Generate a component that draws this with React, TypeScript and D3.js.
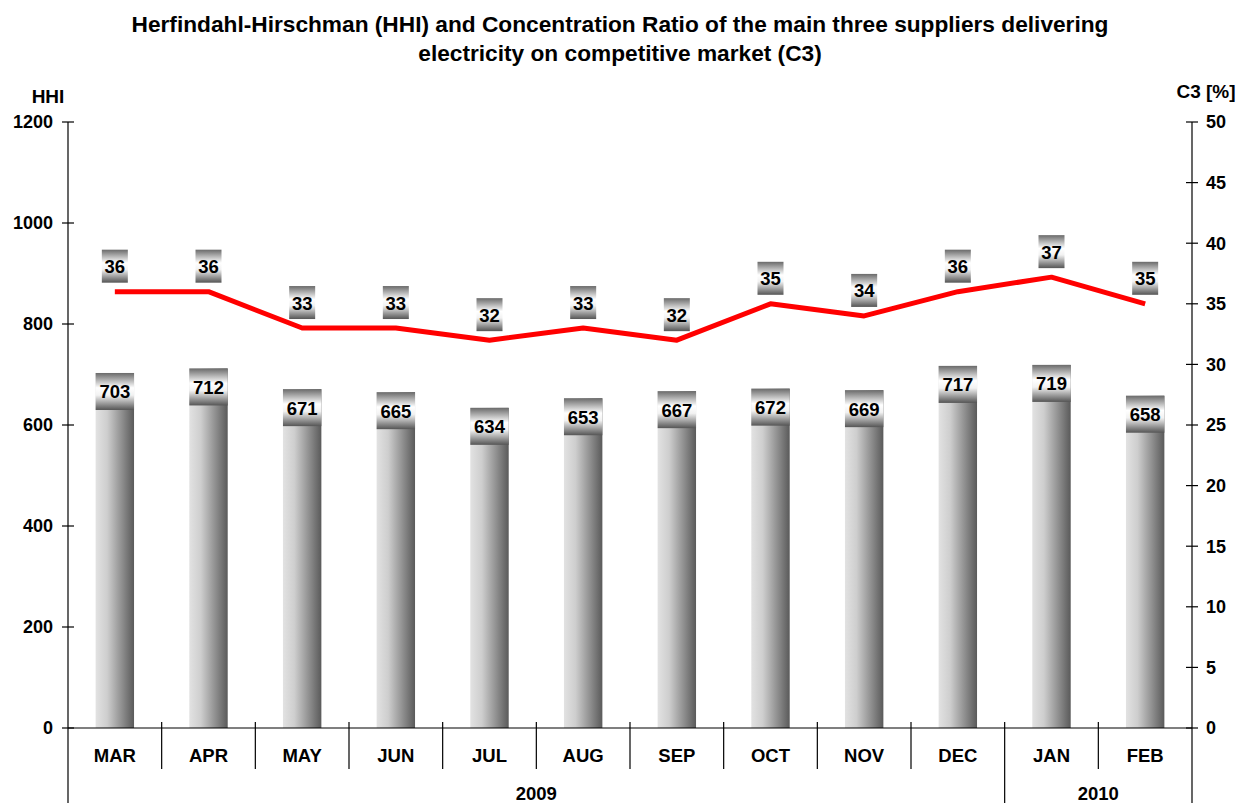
import React, { useEffect } from "react";
import * as d3 from "d3";

const months = ["MAR", "APR", "MAY", "JUN", "JUL", "AUG", "SEP", "OCT", "NOV", "DEC", "JAN", "FEB"];
const hhiValues = [703, 712, 671, 665, 634, 653, 667, 672, 669, 717, 719, 658];
const c3Values = [36, 36, 33, 33, 32, 33, 32, 35, 34, 36, 37.2, 35];
const hhiTicks = [0, 200, 400, 600, 800, 1000, 1200];
const c3Ticks = [0, 5, 10, 15, 20, 25, 30, 35, 40, 45, 50];
const years = [
  { label: "2009", from: 0, to: 10 },
  { label: "2010", from: 10, to: 12 },
];

const W = 1236;
const H = 803;
const left = 68;
const right = 1192;
const top = 122;
const bottom = 728;
const font = "'Liberation Sans', Arial, sans-serif";

export default function App() {
  useEffect(() => {
    document.body.style.margin = "0";
  }, []);

  const x = d3.scaleBand<string>().domain(months).range([left, right]).padding(0);
  const yL = d3.scaleLinear().domain([0, 1200]).range([bottom, top]);
  const yR = d3.scaleLinear().domain([0, 50]).range([bottom, top]);
  const barW = x.bandwidth() * 0.41;
  const cx = (m: string) => (x(m) as number) + x.bandwidth() / 2;
  const fmt = d3.format(".0f");

  const line = d3
    .line<number>()
    .x((_d, i) => cx(months[i]))
    .y((d) => yR(d));

  const edge = (i: number) => (i < months.length ? (x(months[i]) as number) : right);

  return (
    <svg width={W} height={H} style={{ display: "block", fontFamily: font }}>
      <defs>
        <linearGradient id="barGrad" x1="0" x2="1" y1="0" y2="0">
          <stop offset="0" stopColor="#e2e2e2" />
          <stop offset="0.3" stopColor="#cecece" />
          <stop offset="0.7" stopColor="#8c8c8c" />
          <stop offset="1" stopColor="#5a5a5a" />
        </linearGradient>
        <linearGradient id="boxGrad" x1="0" x2="0" y1="0" y2="1">
          <stop offset="0" stopColor="#6a6a6a" />
          <stop offset="0.4" stopColor="#ffffff" />
          <stop offset="0.6" stopColor="#f2f2f2" />
          <stop offset="1" stopColor="#555555" />
        </linearGradient>
      </defs>

      <text x={620} y={32} textAnchor="middle" fontSize={22.7} fontWeight="bold">
        Herfindahl-Hirschman (HHI) and Concentration Ratio of the main three suppliers delivering
      </text>
      <text x={620} y={61} textAnchor="middle" fontSize={22.7} fontWeight="bold">
        electricity on competitive market (C3)
      </text>

      <text x={48} y={103} textAnchor="middle" fontSize={19} fontWeight="bold">HHI</text>
      <text x={1206} y={98} textAnchor="middle" fontSize={19} fontWeight="bold">C3 [%]</text>

      {/* bars */}
      {months.map((m, i) => (
        <rect
          key={"b" + m}
          x={cx(m) - barW / 2}
          y={yL(hhiValues[i])}
          width={barW}
          height={bottom - yL(hhiValues[i])}
          fill="url(#barGrad)"
        />
      ))}

      {/* axes */}
      <g stroke="#000" strokeWidth={1.2}>
        <line x1={left} x2={left} y1={top} y2={H} />
        <line x1={right} x2={right} y1={top} y2={H} />
        <line x1={left} x2={right} y1={bottom} y2={bottom} />
        {hhiTicks.map((t) => (
          <line key={"lt" + t} x1={left - 6} x2={left + 6} y1={yL(t)} y2={yL(t)} />
        ))}
        {c3Ticks.map((t) => (
          <line key={"rt" + t} x1={right - 6} x2={right + 6} y1={yR(t)} y2={yR(t)} />
        ))}
        {months.slice(1).map((m, i) => {
          const isYear = years.some((yr) => yr.from === i + 1);
          return (
            <line key={"s" + m} x1={edge(i + 1)} x2={edge(i + 1)} y1={bottom - 6} y2={isYear ? H : 769} />
          );
        })}
      </g>

      {hhiTicks.map((t) => (
        <text key={"ll" + t} x={53} y={yL(t)} dy="0.35em" textAnchor="end" fontSize={18} fontWeight="bold">
          {t}
        </text>
      ))}
      {c3Ticks.map((t) => (
        <text key={"rl" + t} x={1206} y={yR(t)} dy="0.35em" textAnchor="start" fontSize={18} fontWeight="bold">
          {t}
        </text>
      ))}

      {months.map((m) => (
        <text key={"c" + m} x={cx(m)} y={762} textAnchor="middle" fontSize={18.5} fontWeight="bold">
          {m}
        </text>
      ))}
      {years.map((yr) => (
        <text
          key={yr.label}
          x={(edge(yr.from) + edge(yr.to)) / 2}
          y={800}
          textAnchor="middle"
          fontSize={18.5}
          fontWeight="bold"
        >
          {yr.label}
        </text>
      ))}

      {/* bar labels */}
      {months.map((m, i) => (
        <g key={"bl" + m}>
          <rect x={cx(m) - barW / 2} y={yL(hhiValues[i])} width={barW} height={37} fill="url(#boxGrad)" />
          <text x={cx(m)} y={yL(hhiValues[i]) + 19} dy="0.35em" textAnchor="middle" fontSize={18.5} fontWeight="bold">
            {fmt(hhiValues[i])}
          </text>
        </g>
      ))}

      {/* C3 line */}
      <path d={line(c3Values) || ""} fill="none" stroke="#ff0000" strokeWidth={5} strokeLinejoin="round" />

      {c3Values.map((v, i) => (
        <g key={"cl" + i}>
          <rect x={cx(months[i]) - 13} y={yR(v) - 42} width={26} height={33} fill="url(#boxGrad)" />
          <text x={cx(months[i])} y={yR(v) - 25} dy="0.35em" textAnchor="middle" fontSize={18.5} fontWeight="bold">
            {fmt(v)}
          </text>
        </g>
      ))}
    </svg>
  );
}
